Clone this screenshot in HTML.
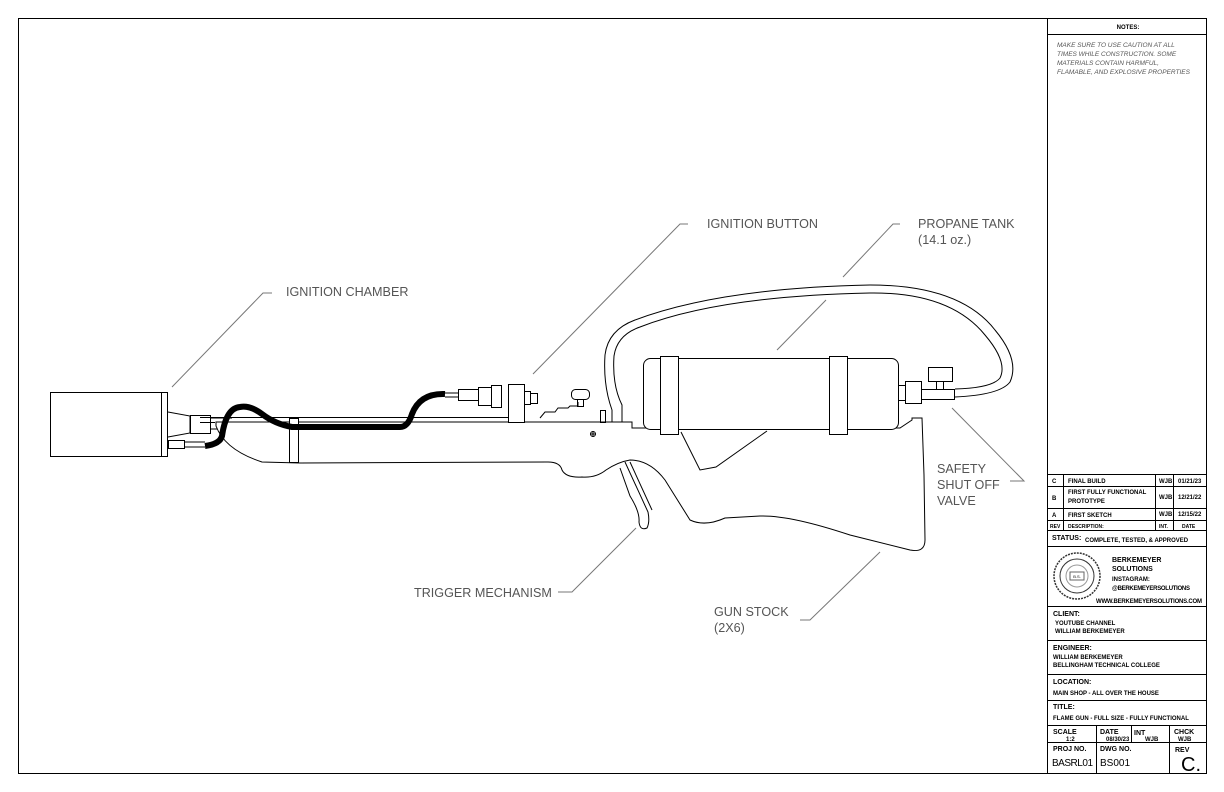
<!DOCTYPE html>
<html><head><meta charset="utf-8"><style>
body{margin:0;background:#fff;}
svg{display:block;font-family:"Liberation Sans",Arial,sans-serif;}
.lbl{font-size:12.6px;fill:#555;}
.ld{stroke:#777;stroke-width:1;fill:none;}
.tb{font-size:6px;font-weight:bold;fill:#000;}
</style></head><body>
<svg width="1224" height="792" viewBox="0 0 1224 792">
<rect x="0" y="0" width="1224" height="792" fill="#fff"/>
<rect x="18.5" y="18.5" width="1188" height="755" fill="none" stroke="#000" stroke-width="1"/>
<line x1="1047.5" y1="18" x2="1047.5" y2="773" stroke="#000"/>
<g stroke="#000" stroke-width="1">
<line x1="1047" y1="34.5" x2="1206" y2="34.5"/>
<line x1="1047" y1="474.5" x2="1206" y2="474.5"/>
<line x1="1047" y1="486.5" x2="1206" y2="486.5"/>
<line x1="1047" y1="508.5" x2="1206" y2="508.5"/>
<line x1="1047" y1="520.5" x2="1206" y2="520.5"/>
<line x1="1047" y1="530.5" x2="1206" y2="530.5"/>
<line x1="1047" y1="546.5" x2="1206" y2="546.5"/>
<line x1="1047" y1="606.5" x2="1206" y2="606.5"/>
<line x1="1047" y1="640.5" x2="1206" y2="640.5"/>
<line x1="1047" y1="674.5" x2="1206" y2="674.5"/>
<line x1="1047" y1="700.5" x2="1206" y2="700.5"/>
<line x1="1047" y1="725.5" x2="1206" y2="725.5"/>
<line x1="1047" y1="742.5" x2="1206" y2="742.5"/>
<line x1="1063.5" y1="474" x2="1063.5" y2="530"/>
<line x1="1155.5" y1="474" x2="1155.5" y2="530"/>
<line x1="1173.5" y1="474" x2="1173.5" y2="530"/>
<line x1="1096.5" y1="725" x2="1096.5" y2="773"/>
<line x1="1131.5" y1="725" x2="1131.5" y2="742"/>
<line x1="1169.5" y1="725" x2="1169.5" y2="773"/>
</g>
<text x="1128" y="29" class="tb" text-anchor="middle">NOTES:</text>
<g font-size="6.5" font-style="italic" fill="#555">
<text x="1057" y="47">MAKE SURE TO USE CAUTION AT ALL</text>
<text x="1057" y="56">TIMES WHILE CONSTRUCTION. SOME</text>
<text x="1057" y="65">MATERIALS CONTAIN HARMFUL,</text>
<text x="1057" y="74">FLAMABLE, AND EXPLOSIVE PROPERTIES</text>
</g>
<g class="tb">
<text x="1052" y="483">C</text><text x="1068" y="483">FINAL BUILD</text><text x="1159" y="483">WJB</text><text x="1178" y="483">01/21/23</text>
<text x="1052" y="500">B</text><text x="1068" y="494">FIRST FULLY FUNCTIONAL</text><text x="1068" y="503">PROTOTYPE</text><text x="1159" y="499">WJB</text><text x="1178" y="499">12/21/22</text>
<text x="1052" y="517">A</text><text x="1068" y="517">FIRST SKETCH</text><text x="1159" y="516">WJB</text><text x="1178" y="516">12/15/22</text>
<text x="1050" y="528" font-size="5">REV</text><text x="1068" y="528" font-size="5">DESCRIPTION:</text><text x="1159" y="528" font-size="5">INT.</text><text x="1182" y="528" font-size="5">DATE</text>
<text x="1052" y="540" font-size="7">STATUS:</text><text x="1085" y="542">COMPLETE, TESTED, &amp; APPROVED</text>
<text x="1112" y="562" font-size="7">BERKEMEYER</text>
<text x="1112" y="571" font-size="7">SOLUTIONS</text>
<text x="1112" y="581">INSTAGRAM:</text>
<text x="1112" y="590" textLength="78">@BERKEMEYERSOLUTIONS</text>
<text x="1096" y="603" textLength="106">WWW.BERKEMEYERSOLUTIONS.COM</text>
<text x="1053" y="616" font-size="7">CLIENT:</text>
<text x="1055" y="625">YOUTUBE CHANNEL</text><text x="1055" y="633">WILLIAM BERKEMEYER</text>
<text x="1053" y="650" font-size="7">ENGINEER:</text>
<text x="1053" y="659">WILLIAM BERKEMEYER</text><text x="1053" y="667">BELLINGHAM TECHNICAL COLLEGE</text>
<text x="1053" y="684" font-size="7">LOCATION:</text>
<text x="1053" y="695">MAIN SHOP - ALL OVER THE HOUSE</text>
<text x="1053" y="709" font-size="7">TITLE:</text>
<text x="1053" y="720">FLAME GUN - FULL SIZE - FULLY FUNCTIONAL</text>
<text x="1053" y="734" font-size="7">SCALE</text><text x="1066" y="741">1:2</text>
<text x="1100" y="734" font-size="7">DATE</text><text x="1106" y="741">08/30/23</text>
<text x="1134" y="735" font-size="7">INT</text><text x="1145" y="741">WJB</text>
<text x="1174" y="734" font-size="7">CHCK</text><text x="1178" y="741">WJB</text>
<text x="1053" y="751" font-size="7">PROJ NO.</text>
<text x="1100" y="751" font-size="7">DWG NO.</text>
<text x="1175" y="752" font-size="7">REV</text>
</g>
<text x="1052" y="766" font-size="10" fill="#000" textLength="41">BASRL01</text>
<text x="1100" y="766" font-size="10" fill="#000">BS001</text>
<text x="1181" y="771" font-size="20" fill="#000">C.</text>
<g fill="none" stroke="#333">
<circle cx="1077" cy="576" r="23" stroke-width="1.5" stroke-dasharray="2 1"/>
<circle cx="1077" cy="576" r="17"/>
<circle cx="1077" cy="576" r="11" stroke="#999"/>
<rect x="1070" y="572" width="14" height="8" stroke="#666"/>
</g>
<text x="1077" y="578" font-size="4" text-anchor="middle">B.S.</text>

<g fill="none" stroke="#000" stroke-width="1">
<rect x="50.5" y="392.5" width="117" height="64" fill="#fff"/>
<line x1="161.5" y1="392" x2="161.5" y2="456"/>
<path d="M168 412 L190 416 L190 433 L168 437"/>
<rect x="190.5" y="415.5" width="20" height="18"/>
<line x1="210" y1="418" x2="232" y2="418"/>
<line x1="210" y1="429" x2="232" y2="429"/>
<rect x="168.5" y="440.5" width="16" height="8"/>
<line x1="184" y1="442" x2="205" y2="442"/><line x1="184" y1="447" x2="205" y2="447"/>
<line x1="200" y1="417.5" x2="520" y2="417.5"/>
<line x1="200" y1="422.5" x2="215" y2="422.5"/>
<path d="M216 422 L632 422 L632 428 L643 428 L643 428 L900 428 L912 420 L912 418 L922 418 L924 475 L925 540 Q925 553 910 550 L850 535 Q790 515 760 516 L725 518 Q705 527 690 520 L665 480 Q650 460 630 460 Q618 462 606 470 Q596 478 582 477 Q566 478 562 470 Q560 462 548 462 L300 463 L262 462 Q225 450 216 426 Z" fill="#fff"/>
<path d="M681 432 L700 470 L716 467 L767 431"/>
<rect x="289.5" y="418.5" width="9" height="44" fill="#fff"/>
<path d="M205 446 Q220 444 222 436 Q226 408 240 407 Q250 405 262 414 Q275 424 292 427 L400 427 Q408 427 412 414 Q420 393 445 394" stroke="#000" stroke-width="6"/>
<line x1="445" y1="393" x2="458" y2="393"/><line x1="445" y1="397" x2="458" y2="397"/>
<rect x="458.5" y="389.5" width="20" height="11"/>
<rect x="478.5" y="387.5" width="13" height="18"/>
<rect x="491.5" y="385.5" width="10" height="22"/>
<rect x="508.5" y="384.5" width="16" height="38" fill="#fff"/>
<rect x="524.5" y="391.5" width="6" height="13"/>
<rect x="530.5" y="393.5" width="7" height="10"/>
<path d="M540 418 L545 412 L555 412 L558 408 L568 408 L570 406 L578 406 L578 402"/>
<rect x="571.5" y="389.5" width="18" height="10" rx="4"/>
<rect x="577.5" y="399.5" width="6" height="7"/>
<circle cx="593" cy="434" r="2.5"/><line x1="590" y1="434" x2="596" y2="434"/><line x1="593" y1="431" x2="593" y2="437"/>
<rect x="600.5" y="410.5" width="5" height="12"/>
<path d="M612 422 L612 410 Q603 385 605 355 Q608 330 635 320 Q720 288 870 285 Q960 285 995 330 Q1020 360 1010 382 Q1000 395 955 397"/>
<path d="M622 422 L622 405 Q612 385 614 356 Q617 335 640 327 Q720 296 870 293 Q950 292 985 335 Q1008 362 1000 378 Q992 388 955 389"/>
<rect x="643.5" y="358.5" width="255" height="71" rx="7" fill="#fff"/>
<rect x="660.5" y="356.5" width="18" height="78" fill="#fff"/>
<rect x="829.5" y="356.5" width="18" height="78" fill="#fff"/>
<rect x="898.5" y="385.5" width="7" height="15"/>
<rect x="905.5" y="381.5" width="16" height="22" fill="#fff"/>
<rect x="921.5" y="389.5" width="33" height="10"/>
<rect x="928.5" y="367.5" width="24" height="14"/>
<rect x="936.5" y="381.5" width="7" height="8"/>
<path d="M625 462 L648 512 Q650 522 647 528 Q640 531 639 522 Q640 512 630 496 L620 468"/>
<line x1="630" y1="462" x2="652" y2="510"/>
</g>
<g class="ld">
<polyline points="272,293 263,293 172,387"/>
<polyline points="688,224 680,224 533,374"/>
<polyline points="900,224 893,224 843,277"/>
<line x1="826" y1="300" x2="777" y2="350"/>
<polyline points="1010,481 1024,481 952,408"/>
<polyline points="558,592 572,592 636,528"/>
<polyline points="800,620 810,620 880,552"/>
</g>
<g class="lbl">
<text x="286" y="296">IGNITION CHAMBER</text>
<text x="707" y="228">IGNITION BUTTON</text>
<text x="918" y="228">PROPANE TANK</text>
<text x="918" y="244">(14.1 oz.)</text>
<text x="937" y="473">SAFETY</text>
<text x="937" y="489">SHUT OFF</text>
<text x="937" y="505">VALVE</text>
<text x="414" y="597">TRIGGER MECHANISM</text>
<text x="714" y="616">GUN STOCK</text>
<text x="714" y="632">(2X6)</text>
</g>
</svg>
</body></html>
